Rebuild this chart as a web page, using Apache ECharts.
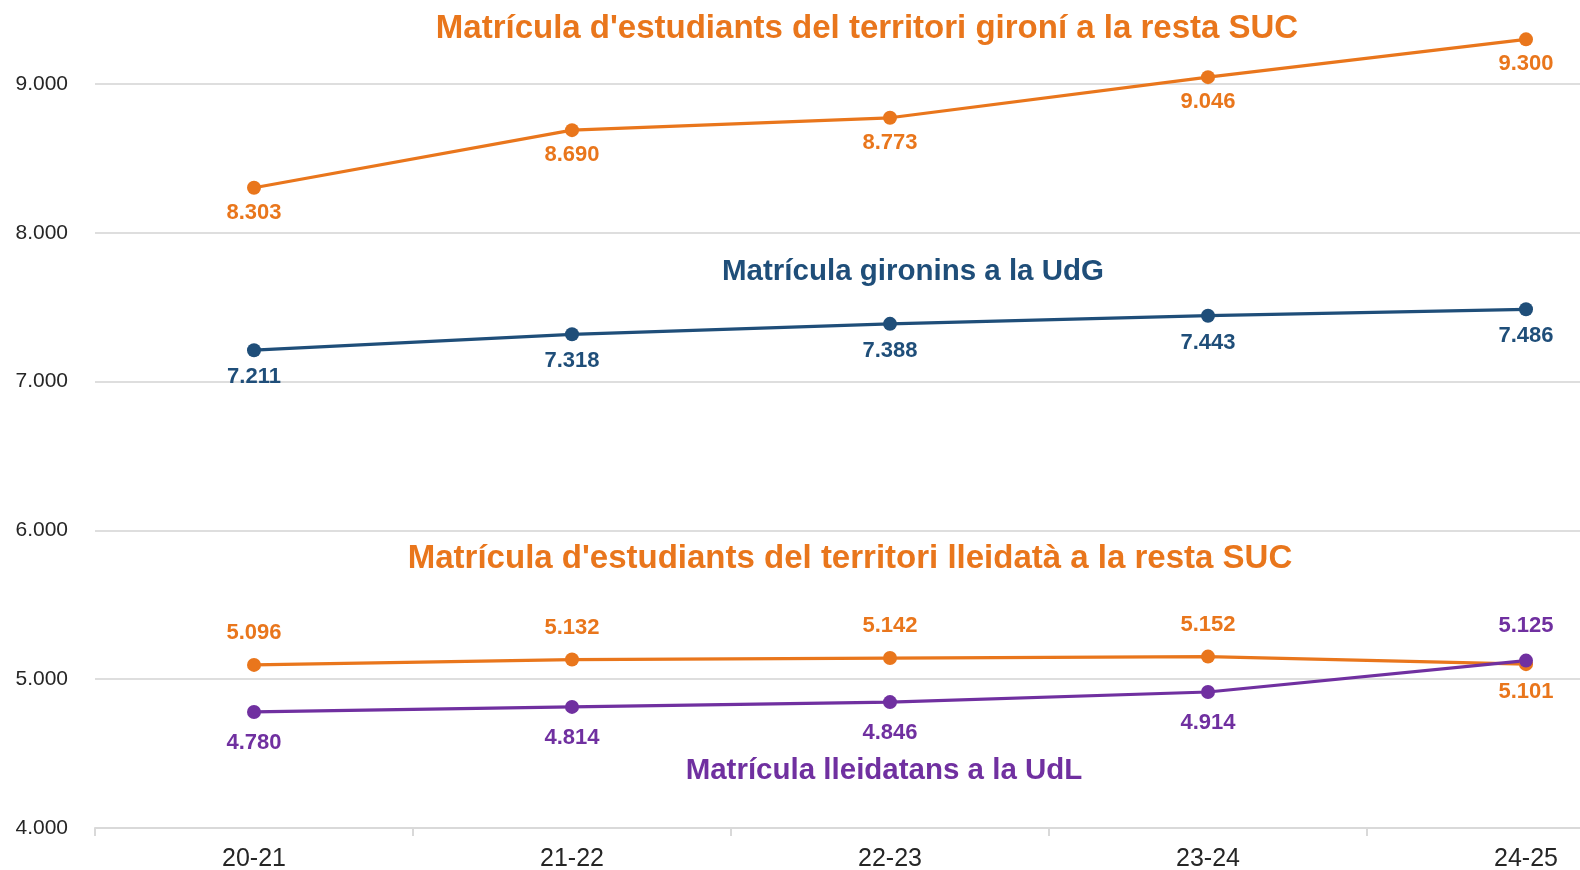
<!DOCTYPE html>
<html>
<head>
<meta charset="utf-8">
<script src="https://cdn.jsdelivr.net/npm/echarts@6/dist/echarts.min.js"></script>
<style>
  html, body { margin: 0; padding: 0; background: #fff; }
  #chart { width: 1580px; height: 870px; }
</style>
</head>
<body>
<div id="chart"></div>
<script>
const cursos = ['20-21', '21-22', '22-23', '23-24', '24-25']
const gironinsRestaSuc = [8303, 8690, 8773, 9046, 9300]
const gironinsUdg = [7211, 7318, 7388, 7443, 7486]
const lleidatansRestaSuc = [5096, 5132, 5142, 5152, 5101]
const lleidatansUdl = [4780, 4814, 4846, 4914, 5125]
const yMin = 4000
const yMax = 9000
const yStep = 1000

const FONT = 'Arial, "Liberation Sans", sans-serif'
const ORANGE = '#E9761C'
const BLUE = '#1F4E79'
const PURPLE = '#7030A0'

function fmt(v) {
  return String(v).replace(/\B(?=(\d{3})+(?!\d))/g, '.')
}

// labels go below the point unless listed in 'above'
function withLabels(values, above, gap) {
  return values.map(function(v, i) {
    const up = above.indexOf(i) >= 0
    return {
      value: v,
      label: {
        position: up ? 'top' : 'bottom',
        distance: up ? gap + 4 : gap
      }
    }
  })
}

function lineSeries(name, values, color, above, gap) {
  return {
    name: name,
    type: 'line',
    clip: false,
    symbol: 'circle',
    symbolSize: 14,
    lineStyle: { width: 3.2, color: color },
    itemStyle: { color: color },
    label: {
      show: true,
      color: color,
      fontFamily: FONT,
      fontWeight: 'bold',
      fontSize: 22,
      formatter: function(p) { return fmt(p.value) }
    },
    data: withLabels(values, above, gap)
  }
}

function note(text, x, y, color, size) {
  return {
    type: 'text',
    x: x,
    y: y,
    style: {
      text: text,
      fill: color,
      font: 'bold ' + size + 'px ' + FONT,
      align: 'center',
      verticalAlign: 'middle'
    }
  }
}

const chart = echarts.init(document.getElementById('chart'))
chart.setOption({
  backgroundColor: '#fff',
  animation: false,
  grid: {
    top: 84,
    left: 95,
    width: 1590,
    height: 744,
    containLabel: false,
    outerBoundsMode: 'none'
  },
  xAxis: {
    type: 'category',
    boundaryGap: true,
    data: cursos,
    axisLine: { lineStyle: { color: '#d9d9d9', width: 2 } },
    axisTick: { show: true, length: 8, lineStyle: { color: '#d9d9d9', width: 2 } },
    axisLabel: {
      color: '#262626',
      fontFamily: FONT,
      fontSize: 25,
      margin: 19
    }
  },
  yAxis: {
    type: 'value',
    min: yMin,
    max: yMax,
    interval: yStep,
    axisLine: { show: false },
    axisTick: { show: false },
    splitLine: { lineStyle: { color: '#dedede', width: 2 } },
    axisLabel: {
      color: '#262626',
      fontFamily: FONT,
      fontSize: 21,
      margin: 27,
      formatter: function(v) { return fmt(v) }
    }
  },
  graphic: [
    note("Matrícula d'estudiants del territori gironí a la resta SUC", 867, 29, ORANGE, 33),
    note('Matrícula gironins a la UdG', 913, 272, BLUE, 29.5),
    note("Matrícula d'estudiants del territori lleidatà a la resta SUC", 850, 559, ORANGE, 33),
    note('Matrícula lleidatans a la UdL', 884, 771, PURPLE, 29.5)
  ],
  series: [
    lineSeries('gironins resta SUC', gironinsRestaSuc, ORANGE, [], 7),
    lineSeries('gironins UdG', gironinsUdg, BLUE, [], 9),
    lineSeries('lleidatans resta SUC', lleidatansRestaSuc, ORANGE, [0, 1, 2, 3], 10),
    lineSeries('lleidatans UdL', lleidatansUdl, PURPLE, [4], 13)
  ]
})
</script>
</body>
</html>
